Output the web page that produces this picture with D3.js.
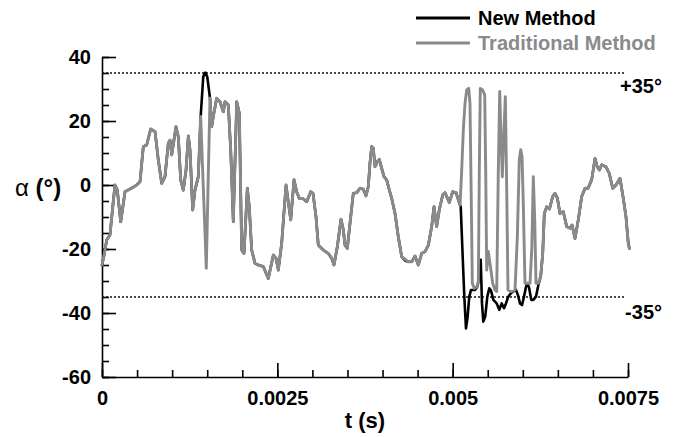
<!DOCTYPE html>
<html>
<head>
<meta charset="utf-8">
<script src="https://cdn.jsdelivr.net/npm/d3@7"></script>
<style>
  body { margin: 0; background: #fff; }
  svg text { font-family: "Liberation Sans", Arial, Helvetica, sans-serif; }
</style>
</head>
<body>
<svg id="chart" width="681" height="437"></svg>
<script>
// Angle of attack alpha (deg) against time t (s), as [t, alpha] samples.
const traditionalMethod = [
  [0, -25], [0.0000285, -22], [0.000067, -17.2], [0.000114, -15.6], [0.000157, -6],
  [0.000185, 0], [0.000218, -1.6], [0.000267, -11.5], [0.000328, -2.1], [0.000423, -1],
  [0.000495, 0], [0.000542, 1], [0.000589, 12], [0.000637, 12.5], [0.000694, 17.5],
  [0.000756, 16.7], [0.000803, 7.8], [0.000851, 0.5], [0.000898, 2.6], [0.000945, 13],
  [0.00097, 14], [0.000994, 9.4], [0.001055, 18.2], [0.001088, 15.1], [0.001122, 1.6],
  [0.001159, -1.6], [0.001198, 4.7], [0.001231, 15.3], [0.001255, 11], [0.001293, -7.8],
  [0.001326, -1.6], [0.001373, 2.6], [0.001407, 21.4], [0.001444, -0.6], [0.001473, -17.5],
  [0.001487, -26], [0.001511, -1.6], [0.00154, 27.1], [0.001564, 18.2], [0.001587, 21.4],
  [0.001635, 27.1], [0.001683, 26], [0.00173, 22.9], [0.001754, 26], [0.001801, 25],
  [0.001835, 11], [0.001872, -11.5], [0.001921, 26], [0.001958, 22.4], [0.001992, -20.3],
  [0.002025, -21.4], [0.002072, -1], [0.0021, -6.8], [0.002134, -20.3], [0.002182, -24.5],
  [0.002229, -25], [0.0023, -25.5], [0.002371, -29.2], [0.002443, -21.9], [0.002481, -22.9],
  [0.002514, -26.6], [0.002562, -18.2], [0.002624, 0], [0.002691, -10.9], [0.002738, 1.6],
  [0.002776, -2.1], [0.002813, -4.2], [0.002862, -4.2], [0.002919, -5.2], [0.002976, -2.1],
  [0.003009, -2.6], [0.003051, -9.9], [0.003084, -18.8], [0.003155, -20.3], [0.003227, -21.4],
  [0.003275, -22.9], [0.003308, -25], [0.003355, -19.3], [0.003408, -10.7], [0.003441, -14],
  [0.003465, -18.8], [0.003498, -19.8], [0.003536, -12], [0.003583, -2.6], [0.003632, -2.4],
  [0.003679, -1], [0.003726, -1.3], [0.003764, -3.4], [0.003797, -0.5], [0.003821, 6.8],
  [0.003845, 12], [0.003868, 11.5], [0.003893, 5.7], [0.003925, 7.3], [0.003954, 8],
  [0.003988, 5.2], [0.004021, 2.6], [0.004059, 1.6], [0.004097, -1.6], [0.004131, -4.2],
  [0.004178, -8.9], [0.004225, -16.2], [0.004273, -22.4], [0.00432, -23.2], [0.004367, -24],
  [0.004416, -24], [0.004463, -22.2], [0.00451, -25], [0.004558, -21.4], [0.004606, -20.8],
  [0.004653, -18.8], [0.004701, -13], [0.004734, -6.8], [0.004772, -13], [0.004809, -7.8],
  [0.004858, -3.1], [0.004891, -2.4], [0.004952, -5.5], [0.005, -2.1], [0.005048, -2.4],
  [0.005105, -6.3], [0.005129, 4.7], [0.005152, 17.2], [0.005176, 25.5], [0.0052, 29.7],
  [0.005229, 30.2], [0.005247, 25.5], [0.005266, -5.7], [0.00528, -30.7], [0.005309, -32.3],
  [0.005343, -31.8], [0.005366, -30.7], [0.00538, 4.7], [0.005394, 30.2], [0.005428, 29.7],
  [0.005457, 28.1], [0.005471, 4.7], [0.005485, -26.6], [0.005508, -20.8], [0.005532, -24.5],
  [0.005571, -30.7], [0.005604, -32.8], [0.005628, -33.3], [0.005651, 4.7], [0.005671, 29.2],
  [0.005689, 15.1], [0.005708, 2.6], [0.005728, 15.1], [0.005751, 27.6], [0.00577, -0.5],
  [0.005789, -32.8], [0.005842, -33.3], [0.005889, -32.8], [0.005922, -16.2], [0.00595, 7.8],
  [0.00597, 11], [0.005989, 8.9], [0.006007, -5.7], [0.006031, -30.7], [0.006064, -30.7],
  [0.006103, -30.7], [0.006128, -20], [0.00615, 2.6], [0.00617, -10.9], [0.006188, -30.7],
  [0.006221, -30.7], [0.006255, -28.6], [0.006284, -21.4], [0.006307, -8.9], [0.006341, -6.8],
  [0.006381, -7.5], [0.006426, -3.6], [0.006459, -2.6], [0.006492, -4], [0.00653, -8.9],
  [0.006577, -8.3], [0.006626, -13], [0.006673, -13.5], [0.006702, -12.5], [0.006744, -16.7],
  [0.006791, -10.9], [0.00684, -3.6], [0.006887, -1], [0.00693, -1], [0.006982, 1.6],
  [0.00703, 8.3], [0.007062, 5.7], [0.007091, 4.7], [0.007125, 6.3], [0.007186, 5.7],
  [0.007233, 3.6], [0.007282, -1], [0.007329, 0], [0.007386, 2.1], [0.007433, -4.2],
  [0.007471, -9.9], [0.007504, -18.2], [0.00752, -19.8]
];

const newMethod = [
  [0, -25], [0.0000285, -22], [0.000067, -17.2], [0.000114, -15.6], [0.000157, -6],
  [0.000185, 0], [0.000218, -1.6], [0.000267, -11.5], [0.000328, -2.1], [0.000423, -1],
  [0.000495, 0], [0.000542, 1], [0.000589, 12], [0.000637, 12.5], [0.000694, 17.5],
  [0.000756, 16.7], [0.000803, 7.8], [0.000851, 0.5], [0.000898, 2.6], [0.000945, 13],
  [0.00097, 14], [0.000994, 9.4], [0.001055, 18.2], [0.001088, 15.1], [0.001122, 1.6],
  [0.001159, -1.6], [0.001198, 4.7], [0.001231, 15.3], [0.001255, 11], [0.001293, -7.8],
  [0.001326, -1.6], [0.001373, 2.6], [0.001407, 21.4], [0.001444, 33.9], [0.001473, 35.1],
  [0.001501, 33.8], [0.00154, 27.1], [0.001564, 18.2], [0.001587, 21.4],
  [0.001635, 27.1], [0.001683, 26], [0.00173, 22.9], [0.001754, 26], [0.001801, 25],
  [0.001835, 11], [0.001872, -11.5], [0.001921, 26], [0.001958, 22.4], [0.001992, -20.3],
  [0.002025, -21.4], [0.002072, -1], [0.0021, -6.8], [0.002134, -20.3], [0.002182, -24.5],
  [0.002229, -25], [0.0023, -25.5], [0.002371, -29.2], [0.002443, -21.9], [0.002481, -22.9],
  [0.002514, -26.6], [0.002562, -18.2], [0.002624, 0], [0.002691, -10.9], [0.002738, 1.6],
  [0.002776, -2.1], [0.002813, -4.2], [0.002862, -4.2], [0.002919, -5.2], [0.002976, -2.1],
  [0.003009, -2.6], [0.003051, -9.9], [0.003084, -18.8], [0.003155, -20.3], [0.003227, -21.4],
  [0.003275, -22.9], [0.003308, -25], [0.003355, -19.3], [0.003408, -10.7], [0.003441, -14],
  [0.003465, -18.8], [0.003498, -19.8], [0.003536, -12], [0.003583, -2.6], [0.003632, -2.4],
  [0.003679, -1], [0.003726, -1.3], [0.003764, -3.4], [0.003797, -0.5], [0.003821, 6.8],
  [0.003845, 12], [0.003868, 11.5], [0.003893, 5.7], [0.003925, 7.3], [0.003954, 8],
  [0.003988, 5.2], [0.004021, 2.6], [0.004059, 1.6], [0.004097, -1.6], [0.004131, -4.2],
  [0.004178, -8.9], [0.004225, -16.2], [0.004273, -22.4], [0.00432, -23.6], [0.004367, -24],
  [0.004416, -24], [0.004463, -22.2], [0.00451, -25], [0.004558, -21.4], [0.004606, -20.8],
  [0.004653, -18.8], [0.004701, -13], [0.004734, -6.8], [0.004772, -13], [0.004809, -7.8],
  [0.004858, -3.1], [0.004891, -2.4], [0.004952, -5.5], [0.005, -2.1], [0.005048, -2.4],
  [0.005105, -6.3], [0.005115, -6.8], [0.005143, -22.4], [0.005166, -34.9], [0.00519, -44.8],
  [0.005214, -41], [0.005237, -34.9], [0.005261, -32.8], [0.005318, -32.8], [0.005351, -31.8],
  [0.00538, -28.6], [0.0054, -23.4], [0.005418, -37], [0.005437, -42.7], [0.005465, -41],
  [0.005494, -34.9], [0.005522, -32.3], [0.005547, -33], [0.00558, -35.9], [0.005628, -37],
  [0.005665, -39], [0.005699, -37], [0.005732, -38.5], [0.00576, -37], [0.005793, -34.9],
  [0.005827, -33.9], [0.00586, -33.3], [0.005903, -32.8], [0.005932, -34.5], [0.00596, -37],
  [0.005989, -37.5], [0.006017, -34.9], [0.006046, -31.8], [0.006064, -30.7], [0.006089, -32],
  [0.006121, -35.9], [0.00615, -35.9], [0.006188, -34.9], [0.006221, -31.3], [0.006255, -28.6],
  [0.006284, -21.4], [0.006307, -8.9], [0.006341, -6.8],
  [0.006381, -7.5], [0.006426, -3.6], [0.006459, -2.6], [0.006492, -4], [0.00653, -8.9],
  [0.006577, -8.3], [0.006626, -13], [0.006673, -13.5], [0.006702, -12.5], [0.006744, -16.7],
  [0.006791, -10.9], [0.00684, -3.6], [0.006887, -1], [0.00693, -1], [0.006982, 1.6],
  [0.00703, 8.3], [0.007062, 5.7], [0.007091, 4.7], [0.007125, 6.3], [0.007186, 5.7],
  [0.007233, 3.6], [0.007282, -1], [0.007329, 0], [0.007386, 2.1], [0.007433, -4.2],
  [0.007471, -9.9], [0.007504, -18.2], [0.00752, -19.8]
];

const seriesNames = ["New Method", "Traditional Method"];
const seriesColors = ["#000000", "#8a8a8a"];
const xMajorTicks = [0, 0.0025, 0.005, 0.0075];
const xTickLabels = ["0", "0.0025", "0.005", "0.0075"];
const yMajorTicks = [40, 20, 0, -20, -40, -60];
const yTickLabels = ["40", "20", "0", "-20", "-40", "-60"];
const limitValues = [35, -35];
const limitLabels = ["+35°", "-35°"];

const svg = d3.select("#chart");
const x = d3.scaleLinear().domain([0, 0.0075]).range([102, 628]);
const y = d3.scaleLinear().domain([-60, 40]).range([377, 57]);

// Minor ticks (every 0.0005 s and every 5 deg), pointing into the plot
const xMinor = d3.range(0, 0.0075 + 1e-9, 0.0005);
const yMinor = d3.range(-60, 40 + 1e-9, 5);

svg.append("g")
  .attr("transform", `translate(0,${y(-60)})`)
  .call(d3.axisBottom(x).tickValues(xMinor).tickSize(-7).tickSizeOuter(0).tickFormat(""))
  .call(g => g.selectAll("line,path").attr("stroke", "#000").attr("stroke-width", 1.6));

svg.append("g")
  .attr("transform", `translate(${x(0)},0)`)
  .call(d3.axisLeft(y).tickValues(yMinor).tickSize(-7).tickSizeOuter(0).tickFormat(""))
  .call(g => g.selectAll("line,path").attr("stroke", "#000").attr("stroke-width", 1.6));

// Major ticks with labels
svg.append("g")
  .attr("transform", `translate(0,${y(-60)})`)
  .call(d3.axisBottom(x).tickValues(xMajorTicks).tickSize(-14).tickSizeOuter(0).tickPadding(14)
    .tickFormat((d, i) => xTickLabels[i]))
  .call(g => g.select(".domain").remove())
  .call(g => g.selectAll("line").attr("stroke", "#000").attr("stroke-width", 1.6))
  .call(g => g.selectAll("text").attr("fill", "#000").attr("font-size", 20).attr("font-weight", "bold")
    .attr("font-family", "Liberation Sans, Arial, sans-serif"));

svg.append("g")
  .attr("transform", `translate(${x(0)},0)`)
  .call(d3.axisLeft(y).tickValues(yMajorTicks).tickSize(-14).tickSizeOuter(0).tickPadding(11)
    .tickFormat((d, i) => yTickLabels[i]))
  .call(g => g.select(".domain").remove())
  .call(g => g.selectAll("line").attr("stroke", "#000").attr("stroke-width", 1.6))
  .call(g => g.selectAll("text").attr("fill", "#000").attr("font-size", 20).attr("font-weight", "bold")
    .attr("font-family", "Liberation Sans, Arial, sans-serif"));

// Dotted +/-35 deg limits
svg.selectAll("line.limit").data(limitValues).join("line")
  .attr("class", "limit")
  .attr("x1", x(0)).attr("x2", x(0.0075) - 2)
  .attr("y1", d => y(d)).attr("y2", d => y(d))
  .attr("stroke", "#111").attr("stroke-width", 1.7).attr("stroke-dasharray", "2,2");

svg.selectAll("text.limit").data(limitValues).join("text")
  .attr("class", "limit")
  .attr("x", 662).attr("y", d => y(d) + (d > 0 ? 13 : 15))
  .attr("dy", "0.35em").attr("text-anchor", "end")
  .attr("font-size", 20).attr("font-weight", "bold").attr("fill", "#000")
  .text((d, i) => limitLabels[i]);

// Curves: new method underneath, traditional on top
const line = d3.line().x(d => x(d[0])).y(d => y(d[1]));
[newMethod, traditionalMethod].forEach((series, i) => {
  svg.append("path")
    .datum(series)
    .attr("fill", "none")
    .attr("stroke", seriesColors[i])
    .attr("stroke-width", i === 0 ? 2.6 : 2.9)
    .attr("stroke-linejoin", "round")
    .attr("stroke-linecap", "round")
    .attr("d", line);
});

// Legend
const legend = svg.append("g");
seriesNames.forEach((name, i) => {
  const ly = 18 + i * 25;
  legend.append("line")
    .attr("x1", 416).attr("x2", 470).attr("y1", ly).attr("y2", ly)
    .attr("stroke", seriesColors[i]).attr("stroke-width", 2.8);
  legend.append("text")
    .attr("x", 478).attr("y", ly).attr("dy", "0.35em")
    .attr("font-size", 20).attr("font-weight", "bold").attr("fill", seriesColors[i])
    .text(name);
});

// Axis titles
svg.append("text")
  .attr("x", (x(0) + x(0.0075)) / 2).attr("y", 420).attr("dy", "0.35em")
  .attr("text-anchor", "middle").attr("font-size", 22).attr("font-weight", "bold")
  .text("t (s)");

const yTitle = svg.append("text")
  .attr("x", 15).attr("y", 188).attr("dy", "0.35em").attr("font-size", 24);
yTitle.append("tspan").text("α ");
yTitle.append("tspan").attr("font-weight", "bold").text("(°)");
</script>
</body>
</html>
